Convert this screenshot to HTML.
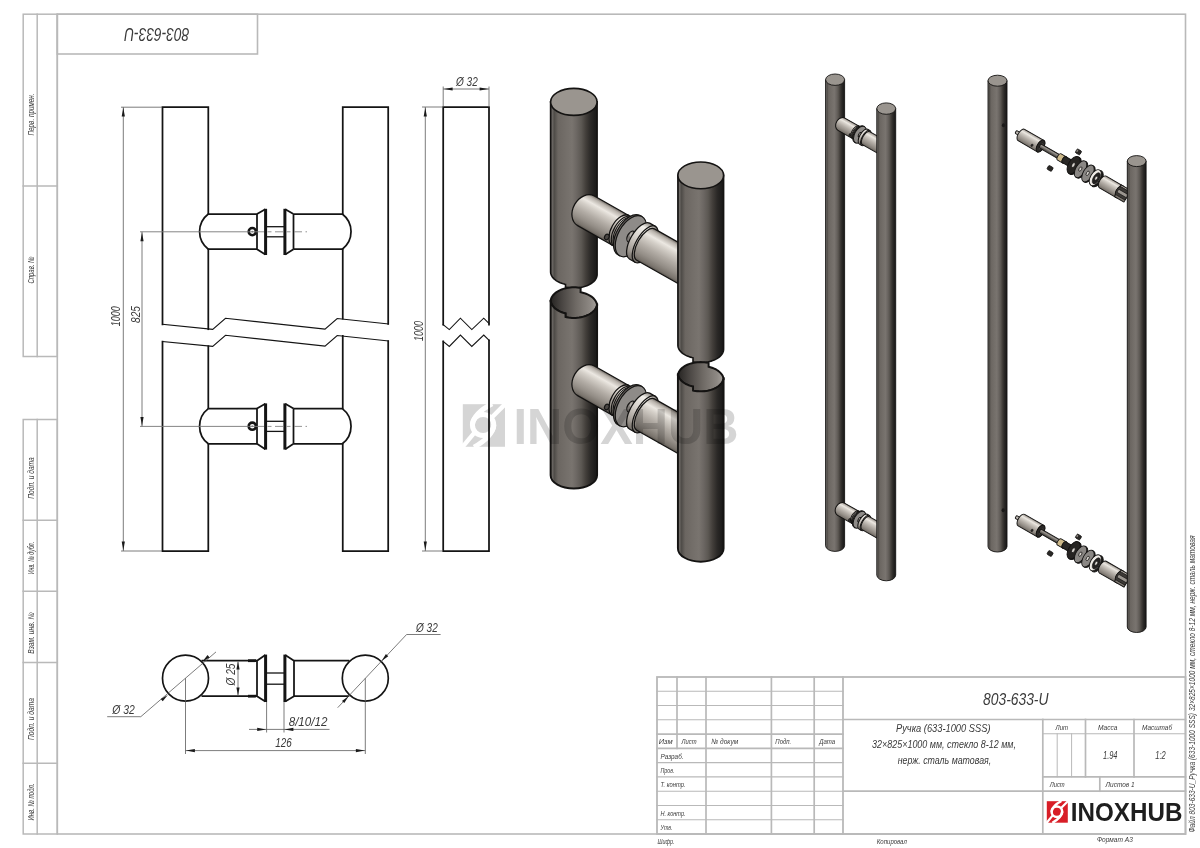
<!DOCTYPE html>
<html><head><meta charset="utf-8"><style>
html,body{margin:0;padding:0;background:#fff;width:1200px;height:848px;overflow:hidden}
svg{display:block}
text{font-family:"Liberation Sans",sans-serif}
</style></head><body>
<svg width="1200" height="848" viewBox="0 0 1200 848">
<g id="frame" stroke-linecap="square">
<rect x="57.3" y="14.2" width="1128.2" height="819.8" fill="none" stroke="#b9b9b9" stroke-width="1.6"/>
<rect x="23.2" y="14.2" width="34.1" height="342.3" fill="none" stroke="#b9b9b9" stroke-width="1.5"/>
<line x1="37.2" y1="14.2" x2="37.2" y2="356.5" stroke="#b9b9b9" stroke-width="1.5" />
<line x1="23.2" y1="186" x2="57.3" y2="186" stroke="#b9b9b9" stroke-width="1.5" />
<rect x="23.2" y="419.5" width="34.1" height="414.5" fill="none" stroke="#b9b9b9" stroke-width="1.5"/>
<line x1="37.2" y1="419.5" x2="37.2" y2="834" stroke="#b9b9b9" stroke-width="1.5" />
<line x1="23.2" y1="520.2" x2="57.3" y2="520.2" stroke="#b9b9b9" stroke-width="1.5" />
<line x1="23.2" y1="591.2" x2="57.3" y2="591.2" stroke="#b9b9b9" stroke-width="1.5" />
<line x1="23.2" y1="662.4" x2="57.3" y2="662.4" stroke="#b9b9b9" stroke-width="1.5" />
<line x1="23.2" y1="763.2" x2="57.3" y2="763.2" stroke="#b9b9b9" stroke-width="1.5" />
<rect x="57.3" y="14.2" width="200.2" height="39.8" fill="none" stroke="#b9b9b9" stroke-width="1.6"/>
</g>
<g id="tb" stroke-linecap="square">
<rect x="657" y="677" width="528.5" height="157" fill="none" stroke="#b9b9b9" stroke-width="1.8"/>
<line x1="657" y1="691.3" x2="843" y2="691.3" stroke="#b9b9b9" stroke-width="1.1" />
<line x1="657" y1="705.5" x2="843" y2="705.5" stroke="#b9b9b9" stroke-width="1.1" />
<line x1="657" y1="719.8" x2="843" y2="719.8" stroke="#b9b9b9" stroke-width="1.1" />
<line x1="657" y1="734.1" x2="843" y2="734.1" stroke="#b9b9b9" stroke-width="1.7" />
<line x1="657" y1="748.4" x2="843" y2="748.4" stroke="#b9b9b9" stroke-width="1.7" />
<line x1="657" y1="762.6" x2="843" y2="762.6" stroke="#b9b9b9" stroke-width="1.1" />
<line x1="657" y1="776.9" x2="843" y2="776.9" stroke="#b9b9b9" stroke-width="1.1" />
<line x1="657" y1="791.2" x2="843" y2="791.2" stroke="#b9b9b9" stroke-width="1.1" />
<line x1="657" y1="805.5" x2="843" y2="805.5" stroke="#b9b9b9" stroke-width="1.1" />
<line x1="657" y1="819.7" x2="843" y2="819.7" stroke="#b9b9b9" stroke-width="1.1" />
<line x1="677" y1="677" x2="677" y2="748.3636363636364" stroke="#b9b9b9" stroke-width="1.7" />
<line x1="706" y1="677" x2="706" y2="834" stroke="#b9b9b9" stroke-width="1.7" />
<line x1="771.4" y1="677" x2="771.4" y2="834" stroke="#b9b9b9" stroke-width="1.7" />
<line x1="814.2" y1="677" x2="814.2" y2="834" stroke="#b9b9b9" stroke-width="1.7" />
<line x1="843" y1="677" x2="843" y2="834" stroke="#b9b9b9" stroke-width="1.8" />
<line x1="843" y1="719.5" x2="1185.5" y2="719.5" stroke="#b9b9b9" stroke-width="1.7" />
<line x1="843" y1="791.2" x2="1185.5" y2="791.2" stroke="#b9b9b9" stroke-width="1.7" />
<line x1="1042.8" y1="719.5" x2="1042.8" y2="834" stroke="#b9b9b9" stroke-width="1.7" />
<line x1="1042.8" y1="733.8" x2="1185.5" y2="733.8" stroke="#b9b9b9" stroke-width="1.1" />
<line x1="1042.8" y1="776.8" x2="1185.5" y2="776.8" stroke="#b9b9b9" stroke-width="1.7" />
<line x1="1085.5" y1="719.5" x2="1085.5" y2="776.8" stroke="#b9b9b9" stroke-width="1.7" />
<line x1="1134" y1="719.5" x2="1134" y2="776.8" stroke="#b9b9b9" stroke-width="1.7" />
<line x1="1057.2" y1="733.8" x2="1057.2" y2="776.8" stroke="#b9b9b9" stroke-width="1.0" />
<line x1="1071.6" y1="733.8" x2="1071.6" y2="776.8" stroke="#b9b9b9" stroke-width="1.0" />
<line x1="1099.8" y1="776.8" x2="1099.8" y2="791.2" stroke="#b9b9b9" stroke-width="1.7" />
</g>
<text x="658.7" y="744.2" font-size="7.8" font-family="Liberation Sans" font-style="italic" font-weight="normal" fill="#3a3a3a" text-anchor="start" textLength="14" lengthAdjust="spacingAndGlyphs" >Изм</text>
<text x="681.5" y="744.2" font-size="7.8" font-family="Liberation Sans" font-style="italic" font-weight="normal" fill="#3a3a3a" text-anchor="start" textLength="15" lengthAdjust="spacingAndGlyphs" >Лист</text>
<text x="711.2" y="744.2" font-size="7.8" font-family="Liberation Sans" font-style="italic" font-weight="normal" fill="#3a3a3a" text-anchor="start" textLength="27" lengthAdjust="spacingAndGlyphs" >№ докум</text>
<text x="775.3" y="744.2" font-size="7.8" font-family="Liberation Sans" font-style="italic" font-weight="normal" fill="#3a3a3a" text-anchor="start" textLength="16" lengthAdjust="spacingAndGlyphs" >Подп.</text>
<text x="819.2" y="744.2" font-size="7.8" font-family="Liberation Sans" font-style="italic" font-weight="normal" fill="#3a3a3a" text-anchor="start" textLength="16" lengthAdjust="spacingAndGlyphs" >Дата</text>
<text x="660.5" y="758.8" font-size="7.8" font-family="Liberation Sans" font-style="italic" font-weight="normal" fill="#3a3a3a" text-anchor="start" textLength="23" lengthAdjust="spacingAndGlyphs" >Разраб.</text>
<text x="660.5" y="773.3" font-size="7.8" font-family="Liberation Sans" font-style="italic" font-weight="normal" fill="#3a3a3a" text-anchor="start" textLength="14" lengthAdjust="spacingAndGlyphs" >Пров.</text>
<text x="660.5" y="787.2" font-size="7.8" font-family="Liberation Sans" font-style="italic" font-weight="normal" fill="#3a3a3a" text-anchor="start" textLength="25" lengthAdjust="spacingAndGlyphs" >Т. контр.</text>
<text x="660.5" y="815.8" font-size="7.8" font-family="Liberation Sans" font-style="italic" font-weight="normal" fill="#3a3a3a" text-anchor="start" textLength="25" lengthAdjust="spacingAndGlyphs" >Н. контр.</text>
<text x="660.5" y="830.0" font-size="7.8" font-family="Liberation Sans" font-style="italic" font-weight="normal" fill="#3a3a3a" text-anchor="start" textLength="12" lengthAdjust="spacingAndGlyphs" >Утв.</text>
<text x="657.5" y="844.2" font-size="7.8" font-family="Liberation Sans" font-style="italic" font-weight="normal" fill="#3a3a3a" text-anchor="start" textLength="17" lengthAdjust="spacingAndGlyphs" >Шифр.</text>
<text x="876.8" y="844.2" font-size="7.8" font-family="Liberation Sans" font-style="italic" font-weight="normal" fill="#3a3a3a" text-anchor="start" textLength="30" lengthAdjust="spacingAndGlyphs" >Копировал</text>
<text x="1096.9" y="842.3" font-size="7.8" font-family="Liberation Sans" font-style="italic" font-weight="normal" fill="#3a3a3a" text-anchor="start" textLength="36" lengthAdjust="spacingAndGlyphs" >Формат А3</text>
<text x="1055.5" y="730.2" font-size="7.8" font-family="Liberation Sans" font-style="italic" font-weight="normal" fill="#3a3a3a" text-anchor="start" textLength="12.5" lengthAdjust="spacingAndGlyphs" >Лит</text>
<text x="1098" y="730.2" font-size="7.8" font-family="Liberation Sans" font-style="italic" font-weight="normal" fill="#3a3a3a" text-anchor="start" textLength="19.5" lengthAdjust="spacingAndGlyphs" >Масса</text>
<text x="1142" y="730.2" font-size="7.8" font-family="Liberation Sans" font-style="italic" font-weight="normal" fill="#3a3a3a" text-anchor="start" textLength="30" lengthAdjust="spacingAndGlyphs" >Масштаб</text>
<text x="1049.7" y="787.4" font-size="7.8" font-family="Liberation Sans" font-style="italic" font-weight="normal" fill="#3a3a3a" text-anchor="start" textLength="15" lengthAdjust="spacingAndGlyphs" >Лист</text>
<text x="1105.6" y="787.4" font-size="7.8" font-family="Liberation Sans" font-style="italic" font-weight="normal" fill="#3a3a3a" text-anchor="start" textLength="29" lengthAdjust="spacingAndGlyphs" >Листов 1</text>
<text x="1103" y="759.2" font-size="11" font-family="Liberation Sans" font-style="italic" font-weight="normal" fill="#3a3a3a" text-anchor="start" textLength="14.5" lengthAdjust="spacingAndGlyphs" >1.94</text>
<text x="1155.3" y="759.2" font-size="11" font-family="Liberation Sans" font-style="italic" font-weight="normal" fill="#3a3a3a" text-anchor="start" textLength="10.5" lengthAdjust="spacingAndGlyphs" >1:2</text>
<text x="983" y="705" font-size="16.5" font-family="Liberation Sans" font-style="italic" font-weight="normal" fill="#3a3a3a" text-anchor="start" textLength="65.5" lengthAdjust="spacingAndGlyphs" >803-633-U</text>
<text x="896" y="732.2" font-size="11" font-family="Liberation Sans" font-style="italic" font-weight="normal" fill="#3a3a3a" text-anchor="start" textLength="94.5" lengthAdjust="spacingAndGlyphs" >Ручка (633-1000 SSS)</text>
<text x="872" y="748" font-size="11" font-family="Liberation Sans" font-style="italic" font-weight="normal" fill="#3a3a3a" text-anchor="start" textLength="144" lengthAdjust="spacingAndGlyphs" >32×825×1000 мм, стекло 8-12 мм,</text>
<text x="897.7" y="763.8" font-size="11" font-family="Liberation Sans" font-style="italic" font-weight="normal" fill="#3a3a3a" text-anchor="start" textLength="93.5" lengthAdjust="spacingAndGlyphs" >нерж. сталь матовая,</text>
<g transform="translate(1046.8 801.2) scale(1.0)"><rect x="0" y="0" width="21" height="21.5" fill="#d81e27"/><g fill="none" stroke="#fff" stroke-linecap="butt"><circle cx="10.1" cy="10.5" r="5.3" stroke-width="2.5"/><path d="M14.6 -0.2 Q5.4 4.6 4.75 10.5" stroke-width="2.5"/><path d="M5.9 14.2 L-0.3 21.8" stroke-width="2.2"/><path d="M5.6 21.7 Q14.8 16.4 15.45 10.5" stroke-width="2.5"/><path d="M14.3 6.8 L21.3 -0.3" stroke-width="2.2"/></g></g>
<text x="1070.8" y="821.3" font-size="25" font-family="Liberation Sans" font-style="normal" font-weight="bold" fill="#1e1e1e" text-anchor="start" textLength="111.6" lengthAdjust="spacingAndGlyphs" >INOXHUB</text>
<text x="33.5" y="114.5" font-size="8.6" font-family="Liberation Sans" font-style="italic" font-weight="normal" fill="#3a3a3a" text-anchor="middle" textLength="42" lengthAdjust="spacingAndGlyphs" transform="rotate(-90 33.5 114.5)" >Перв. примен.</text>
<text x="33.5" y="270" font-size="8.6" font-family="Liberation Sans" font-style="italic" font-weight="normal" fill="#3a3a3a" text-anchor="middle" textLength="27" lengthAdjust="spacingAndGlyphs" transform="rotate(-90 33.5 270)" >Справ. №</text>
<text x="33.5" y="478" font-size="8.6" font-family="Liberation Sans" font-style="italic" font-weight="normal" fill="#3a3a3a" text-anchor="middle" textLength="41.5" lengthAdjust="spacingAndGlyphs" transform="rotate(-90 33.5 478)" >Подп. и дата</text>
<text x="33.5" y="558" font-size="8.6" font-family="Liberation Sans" font-style="italic" font-weight="normal" fill="#3a3a3a" text-anchor="middle" textLength="32.5" lengthAdjust="spacingAndGlyphs" transform="rotate(-90 33.5 558)" >Инв. № дубл.</text>
<text x="33.5" y="633" font-size="8.6" font-family="Liberation Sans" font-style="italic" font-weight="normal" fill="#3a3a3a" text-anchor="middle" textLength="41.5" lengthAdjust="spacingAndGlyphs" transform="rotate(-90 33.5 633)" >Взам. инв. №</text>
<text x="33.5" y="719" font-size="8.6" font-family="Liberation Sans" font-style="italic" font-weight="normal" fill="#3a3a3a" text-anchor="middle" textLength="42" lengthAdjust="spacingAndGlyphs" transform="rotate(-90 33.5 719)" >Подп. и дата</text>
<text x="33.5" y="802" font-size="8.6" font-family="Liberation Sans" font-style="italic" font-weight="normal" fill="#3a3a3a" text-anchor="middle" textLength="37" lengthAdjust="spacingAndGlyphs" transform="rotate(-90 33.5 802)" >Инв. № подл.</text>
<text x="156.85" y="28.3" font-size="18.5" font-family="Liberation Sans" font-style="italic" font-weight="normal" fill="#3a3a3a" text-anchor="middle" textLength="65" lengthAdjust="spacingAndGlyphs" transform="rotate(180 156.85 28.3)" >803-633-U</text>
<text x="1195.1" y="832.6" font-size="8.4" font-family="Liberation Sans" font-style="italic" font-weight="normal" fill="#3a3a3a" text-anchor="start" textLength="297" lengthAdjust="spacingAndGlyphs" transform="rotate(-90 1195.1 832.6)" >Файл 803-633-U_Ручка (633-1000 SSS) 32×825×1000 мм, стекло 8-12 мм, нерж. сталь матовая</text>
<g stroke-linecap="square" stroke-linejoin="miter">
<path d="M162.5 324.3 L162.5 107.2 L208.3 107.2 L208.3 214" stroke="#141414" stroke-width="1.75" fill="none" />
<path d="M208.3 249.2 L208.3 329.2" stroke="#141414" stroke-width="1.75" fill="none" />
<path d="M342.75 318.6 L342.75 249.2 M342.75 214 L342.75 107 L388.2 107 L388.2 323.9" stroke="#141414" stroke-width="1.75" fill="none" />
<path d="M162.5 324.3 L212.7 329.4 L225.5 318.3 L325 329.1 L337.2 318.5 L388.2 323.9" stroke="#141414" stroke-width="1.1" fill="none" />
<path d="M162.5 341.5 L212.7 346.4 L225.5 335.3 L325 346.1 L337.2 335.5 L388.2 340.9" stroke="#141414" stroke-width="1.1" fill="none" />
<path d="M162.5 341.5 L162.5 551 L208.3 551 L208.3 444" stroke="#141414" stroke-width="1.75" fill="none" />
<path d="M208.3 408 L208.3 346.2" stroke="#141414" stroke-width="1.75" fill="none" />
<path d="M342.75 335.8 L342.75 408 M342.75 444 L342.75 551 L388.2 551 L388.2 341" stroke="#141414" stroke-width="1.75" fill="none" />
</g>
<path d="M208.3 214.0 A22.1 22.1 0 0 0 208.3 249.20000000000002" stroke="#141414" stroke-width="1.75" fill="none" />
<path d="M342.3 214.0 A22.1 22.1 0 0 1 342.3 249.20000000000002" stroke="#141414" stroke-width="1.75" fill="none" />
<line x1="208.30" y1="214.00" x2="257.00" y2="214.00" stroke="#141414" stroke-width="1.75" />
<line x1="208.30" y1="249.20" x2="257.00" y2="249.20" stroke="#141414" stroke-width="1.75" />
<line x1="293.50" y1="214.00" x2="342.30" y2="214.00" stroke="#141414" stroke-width="1.75" />
<line x1="293.50" y1="249.20" x2="342.30" y2="249.20" stroke="#141414" stroke-width="1.75" />
<path d="M257 214.0 L265.3 209.20000000000002 M257 249.20000000000002 L265.3 254.60000000000002 M257 214.0 L257 249.20000000000002" stroke="#141414" stroke-width="1.75" fill="none" />
<path d="M293.5 214.0 L285.2 209.20000000000002 M293.5 249.20000000000002 L285.2 254.60000000000002 M293.5 214.0 L293.5 249.20000000000002" stroke="#141414" stroke-width="1.75" fill="none" />
<line x1="265.60" y1="208.80" x2="265.60" y2="255.00" stroke="#141414" stroke-width="3.0" />
<line x1="284.90" y1="208.80" x2="284.90" y2="255.00" stroke="#141414" stroke-width="3.0" />
<line x1="266.50" y1="226.70" x2="284.00" y2="226.70" stroke="#141414" stroke-width="1.3" />
<line x1="266.50" y1="236.80" x2="284.00" y2="236.80" stroke="#141414" stroke-width="1.3" />
<circle cx="252.3" cy="231.60000000000002" r="3.6" fill="none" stroke="#141414" stroke-width="2.6"/>
<circle cx="252.3" cy="231.60000000000002" r="0.9" fill="#999"/>
<line x1="140.00" y1="231.80" x2="256.00" y2="231.80" stroke="#777" stroke-width="0.9" />
<line x1="256.00" y1="231.80" x2="307.00" y2="231.80" stroke="#888" stroke-width="0.9" stroke-dasharray="8 3.5 4 3.5"/>
<path d="M208.3 408.59999999999997 A22.1 22.1 0 0 0 208.3 443.79999999999995" stroke="#141414" stroke-width="1.75" fill="none" />
<path d="M342.3 408.59999999999997 A22.1 22.1 0 0 1 342.3 443.79999999999995" stroke="#141414" stroke-width="1.75" fill="none" />
<line x1="208.30" y1="408.60" x2="257.00" y2="408.60" stroke="#141414" stroke-width="1.75" />
<line x1="208.30" y1="443.80" x2="257.00" y2="443.80" stroke="#141414" stroke-width="1.75" />
<line x1="293.50" y1="408.60" x2="342.30" y2="408.60" stroke="#141414" stroke-width="1.75" />
<line x1="293.50" y1="443.80" x2="342.30" y2="443.80" stroke="#141414" stroke-width="1.75" />
<path d="M257 408.59999999999997 L265.3 403.79999999999995 M257 443.79999999999995 L265.3 449.2 M257 408.59999999999997 L257 443.79999999999995" stroke="#141414" stroke-width="1.75" fill="none" />
<path d="M293.5 408.59999999999997 L285.2 403.79999999999995 M293.5 443.79999999999995 L285.2 449.2 M293.5 408.59999999999997 L293.5 443.79999999999995" stroke="#141414" stroke-width="1.75" fill="none" />
<line x1="265.60" y1="403.40" x2="265.60" y2="449.60" stroke="#141414" stroke-width="3.0" />
<line x1="284.90" y1="403.40" x2="284.90" y2="449.60" stroke="#141414" stroke-width="3.0" />
<line x1="266.50" y1="421.30" x2="284.00" y2="421.30" stroke="#141414" stroke-width="1.3" />
<line x1="266.50" y1="431.40" x2="284.00" y2="431.40" stroke="#141414" stroke-width="1.3" />
<circle cx="252.3" cy="426.2" r="3.6" fill="none" stroke="#141414" stroke-width="2.6"/>
<circle cx="252.3" cy="426.2" r="0.9" fill="#999"/>
<line x1="140.00" y1="426.40" x2="256.00" y2="426.40" stroke="#777" stroke-width="0.9" />
<line x1="256.00" y1="426.40" x2="307.00" y2="426.40" stroke="#888" stroke-width="0.9" stroke-dasharray="8 3.5 4 3.5"/>
<line x1="121.00" y1="107.20" x2="162.00" y2="107.20" stroke="#5a5a5a" stroke-width="0.8" />
<line x1="121.00" y1="551.00" x2="162.00" y2="551.00" stroke="#5a5a5a" stroke-width="0.8" />
<line x1="123.30" y1="107.20" x2="123.30" y2="551.00" stroke="#5a5a5a" stroke-width="0.8" />
<path d="M123.30 107.60 L124.90 116.60 L121.70 116.60Z" fill="#1a1a1a"/>
<path d="M123.30 550.60 L121.70 541.60 L124.90 541.60Z" fill="#1a1a1a"/>
<line x1="142.00" y1="231.80" x2="142.00" y2="426.40" stroke="#5a5a5a" stroke-width="0.8" />
<path d="M142.00 232.20 L143.60 241.20 L140.40 241.20Z" fill="#1a1a1a"/>
<path d="M142.00 426.00 L140.40 417.00 L143.60 417.00Z" fill="#1a1a1a"/>
<text x="120.3" y="316.3" font-size="12" font-family="Liberation Sans" font-style="italic" fill="#3a3a3a" text-anchor="middle" textLength="19.8" lengthAdjust="spacingAndGlyphs" transform="rotate(-90 120.3 316.3)">1000</text>
<text x="139.6" y="314.5" font-size="12" font-family="Liberation Sans" font-style="italic" fill="#3a3a3a" text-anchor="middle" textLength="17" lengthAdjust="spacingAndGlyphs" transform="rotate(-90 139.6 314.5)">825</text>
<g stroke-linecap="square">
<path d="M443.2 324.6 L443.2 107 L489 107 L489 324.6" stroke="#141414" stroke-width="1.75" fill="none" />
<path d="M443.2 324.6 L449.3 329.6 L460.4 318.2 L471.8 329.6 L483.75 318.2 L489 323.5" stroke="#141414" stroke-width="1.1" fill="none" />
<path d="M443.2 341.4 L449.3 346.4 L460.4 335.0 L471.8 346.4 L483.75 335.0 L489 340.3" stroke="#141414" stroke-width="1.1" fill="none" />
<path d="M443.2 341.4 L443.2 551 L489 551 L489 340.3" stroke="#141414" stroke-width="1.75" fill="none" />
</g>
<line x1="422.00" y1="107.00" x2="443.00" y2="107.00" stroke="#5a5a5a" stroke-width="0.8" />
<line x1="422.00" y1="551.00" x2="443.00" y2="551.00" stroke="#5a5a5a" stroke-width="0.8" />
<line x1="425.30" y1="107.00" x2="425.30" y2="551.00" stroke="#5a5a5a" stroke-width="0.8" />
<path d="M425.30 107.40 L426.90 116.40 L423.70 116.40Z" fill="#1a1a1a"/>
<path d="M425.30 550.60 L423.70 541.60 L426.90 541.60Z" fill="#1a1a1a"/>
<text x="422.5" y="331" font-size="12" font-family="Liberation Sans" font-style="italic" fill="#3a3a3a" text-anchor="middle" textLength="20" lengthAdjust="spacingAndGlyphs" transform="rotate(-90 422.5 331)">1000</text>
<line x1="443.20" y1="86.50" x2="443.20" y2="106.00" stroke="#5a5a5a" stroke-width="0.8" />
<line x1="489.00" y1="86.50" x2="489.00" y2="106.00" stroke="#5a5a5a" stroke-width="0.8" />
<line x1="443.20" y1="89.00" x2="489.00" y2="89.00" stroke="#5a5a5a" stroke-width="0.8" />
<path d="M443.60 89.00 L452.60 87.40 L452.60 90.60Z" fill="#1a1a1a"/>
<path d="M488.60 89.00 L479.60 90.60 L479.60 87.40Z" fill="#1a1a1a"/>
<text x="456" y="85.8" font-size="12" font-family="Liberation Sans" font-style="italic" fill="#3a3a3a" text-anchor="start" textLength="21.7" lengthAdjust="spacingAndGlyphs">Ø 32</text>
<circle cx="185.5" cy="678.2" r="23" fill="none" stroke="#141414" stroke-width="1.7"/>
<circle cx="365.3" cy="678.2" r="23" fill="none" stroke="#141414" stroke-width="1.7"/>
<line x1="201.50" y1="660.70" x2="257.00" y2="660.70" stroke="#141414" stroke-width="1.75" />
<line x1="201.50" y1="696.20" x2="257.00" y2="696.20" stroke="#141414" stroke-width="1.75" />
<line x1="294.00" y1="660.70" x2="349.30" y2="660.70" stroke="#141414" stroke-width="1.75" />
<line x1="294.00" y1="696.20" x2="349.30" y2="696.20" stroke="#141414" stroke-width="1.75" />
<line x1="248.00" y1="660.70" x2="256.00" y2="660.70" stroke="#141414" stroke-width="2.8" />
<line x1="248.00" y1="696.20" x2="256.00" y2="696.20" stroke="#141414" stroke-width="2.8" />
<path d="M257 660.7 L265.3 655 M257 696.2 L265.3 701.6 M257 660.7 L257 696.2" stroke="#141414" stroke-width="1.75" fill="none" />
<path d="M294 660.7 L285.2 655 M294 696.2 L285.2 701.6 M294 660.7 L294 696.2" stroke="#141414" stroke-width="1.75" fill="none" />
<line x1="265.60" y1="654.60" x2="265.60" y2="702.00" stroke="#141414" stroke-width="3.0" />
<line x1="284.90" y1="654.60" x2="284.90" y2="702.00" stroke="#141414" stroke-width="3.0" />
<line x1="266.50" y1="673.00" x2="284.00" y2="673.00" stroke="#141414" stroke-width="1.3" />
<line x1="266.50" y1="684.20" x2="284.00" y2="684.20" stroke="#141414" stroke-width="1.3" />
<line x1="238.00" y1="661.50" x2="238.00" y2="695.50" stroke="#5a5a5a" stroke-width="0.8" />
<path d="M238.00 661.40 L239.60 669.40 L236.40 669.40Z" fill="#1a1a1a"/>
<path d="M238.00 695.60 L236.40 687.60 L239.60 687.60Z" fill="#1a1a1a"/>
<text x="234.8" y="674.5" font-size="12" font-family="Liberation Sans" font-style="italic" fill="#3a3a3a" text-anchor="middle" textLength="22" lengthAdjust="spacingAndGlyphs" transform="rotate(-90 234.8 674.5)">Ø 25</text>
<line x1="216.00" y1="651.90" x2="140.80" y2="716.70" stroke="#5a5a5a" stroke-width="0.8" />
<line x1="140.80" y1="716.70" x2="107.20" y2="716.70" stroke="#5a5a5a" stroke-width="0.8" />
<path d="M202.50 661.40 L207.54 654.98 L209.62 657.42Z" fill="#1a1a1a"/>
<path d="M167.80 694.90 L162.76 701.32 L160.68 698.88Z" fill="#1a1a1a"/>
<text x="112.3" y="713.6" font-size="12" font-family="Liberation Sans" font-style="italic" fill="#3a3a3a" text-anchor="start" textLength="22.5" lengthAdjust="spacingAndGlyphs">Ø 32</text>
<line x1="337.70" y1="707.70" x2="406.60" y2="634.50" stroke="#5a5a5a" stroke-width="0.8" />
<line x1="406.60" y1="634.50" x2="440.60" y2="634.50" stroke="#5a5a5a" stroke-width="0.8" />
<path d="M348.60 696.20 L344.28 703.12 L341.95 700.93Z" fill="#1a1a1a"/>
<path d="M381.60 661.00 L385.92 654.08 L388.25 656.27Z" fill="#1a1a1a"/>
<text x="416" y="631.7" font-size="12" font-family="Liberation Sans" font-style="italic" fill="#3a3a3a" text-anchor="start" textLength="21.7" lengthAdjust="spacingAndGlyphs">Ø 32</text>
<line x1="185.50" y1="678.20" x2="185.50" y2="754.00" stroke="#5a5a5a" stroke-width="0.8" />
<line x1="365.30" y1="678.20" x2="365.30" y2="754.00" stroke="#5a5a5a" stroke-width="0.8" />
<line x1="185.50" y1="750.60" x2="365.30" y2="750.60" stroke="#5a5a5a" stroke-width="0.8" />
<path d="M185.90 750.60 L194.90 749.00 L194.90 752.20Z" fill="#1a1a1a"/>
<path d="M364.90 750.60 L355.90 752.20 L355.90 749.00Z" fill="#1a1a1a"/>
<text x="283.5" y="747.4" font-size="12" font-family="Liberation Sans" font-style="italic" fill="#3a3a3a" text-anchor="middle" textLength="16.5" lengthAdjust="spacingAndGlyphs">126</text>
<line x1="266.60" y1="702.00" x2="266.60" y2="732.50" stroke="#5a5a5a" stroke-width="0.8" />
<line x1="284.00" y1="702.00" x2="284.00" y2="732.50" stroke="#5a5a5a" stroke-width="0.8" />
<line x1="249.00" y1="729.40" x2="329.50" y2="729.40" stroke="#5a5a5a" stroke-width="0.8" />
<path d="M266.20 729.40 L257.20 731.00 L257.20 727.80Z" fill="#1a1a1a"/>
<path d="M284.40 729.40 L293.40 727.80 L293.40 731.00Z" fill="#1a1a1a"/>
<text x="288.7" y="726.2" font-size="12" font-family="Liberation Sans" font-style="italic" fill="#3a3a3a" text-anchor="start" textLength="38.7" lengthAdjust="spacingAndGlyphs">8/10/12</text>
<defs>
<linearGradient id="gTube" x1="0" y1="0" x2="1" y2="0">
 <stop offset="0" stop-color="#3a3836"/>
 <stop offset="0.03" stop-color="#6e6a66"/>
 <stop offset="0.08" stop-color="#4f4c48"/>
 <stop offset="0.16" stop-color="#6b6661"/>
 <stop offset="0.32" stop-color="#736e69"/>
 <stop offset="0.46" stop-color="#79746f"/>
 <stop offset="0.56" stop-color="#6c6763"/>
 <stop offset="0.66" stop-color="#5c5853"/>
 <stop offset="0.76" stop-color="#423e3a"/>
 <stop offset="0.86" stop-color="#2b2927"/>
 <stop offset="0.95" stop-color="#1e1d1c"/>
 <stop offset="1" stop-color="#191919"/>
</linearGradient>
<linearGradient id="gInner" x1="0" y1="0" x2="1" y2="0">
 <stop offset="0" stop-color="#262422"/>
 <stop offset="0.25" stop-color="#4a4643"/>
 <stop offset="0.55" stop-color="#6f6a65"/>
 <stop offset="0.85" stop-color="#8d8883"/>
 <stop offset="1" stop-color="#a8a39e"/>
</linearGradient>
<linearGradient id="gMetal" x1="0" y1="0" x2="0" y2="1">
 <stop offset="0" stop-color="#6e6862"/>
 <stop offset="0.08" stop-color="#b9b3ac"/>
 <stop offset="0.22" stop-color="#ece8e2"/>
 <stop offset="0.34" stop-color="#d4cfc8"/>
 <stop offset="0.55" stop-color="#b3ada6"/>
 <stop offset="0.78" stop-color="#948e87"/>
 <stop offset="0.93" stop-color="#7a746d"/>
 <stop offset="1" stop-color="#5a554f"/>
</linearGradient>
<linearGradient id="gRing" x1="0" y1="0" x2="0" y2="1">
 <stop offset="0" stop-color="#8a857f"/>
 <stop offset="0.15" stop-color="#f2efea"/>
 <stop offset="0.45" stop-color="#d7d2cc"/>
 <stop offset="0.8" stop-color="#a39d96"/>
 <stop offset="1" stop-color="#6f6a64"/>
</linearGradient>
<linearGradient id="gRod" x1="0" y1="0" x2="0" y2="1">
 <stop offset="0" stop-color="#4a4642"/>
 <stop offset="0.3" stop-color="#9a958f"/>
 <stop offset="0.6" stop-color="#6e6a65"/>
 <stop offset="1" stop-color="#35322f"/>
</linearGradient>
</defs>
<path d="M550.6 101.9 L550.60 271.80 L550.67 272.86 L550.89 273.91 L551.24 274.95 L551.74 275.97 L552.37 276.97 L553.13 277.93 L554.03 278.85 L555.04 279.74 L556.17 280.57 L557.41 281.35 L558.75 282.07 L560.18 282.72 L561.70 283.31 L563.29 283.83 L564.95 284.27 L565.50 284.39 L565.50 287.09 L566.67 287.34 L568.42 287.63 L570.21 287.83 L572.03 287.96 L573.85 288.00 L575.67 287.96 L577.49 287.83 L579.28 287.63 L581.03 287.34 L582.75 286.97 L584.41 286.53 L586.00 286.01 L587.52 285.42 L588.95 284.77 L590.29 284.05 L591.53 283.27 L592.66 282.44 L593.67 281.55 L594.57 280.63 L595.33 279.67 L595.96 278.67 L596.46 277.65 L596.81 276.61 L597.03 275.56 L597.10 274.50 L597.1 101.9 Z" fill="url(#gTube)" stroke="#141312" stroke-width="1.6"/>
<ellipse cx="573.85" cy="101.9" rx="23.25" ry="13.5" fill="#9a958f" stroke="#141312" stroke-width="1.6"/>
<path d="M550.60 301.80 L550.67 300.66 L550.89 299.53 L551.24 298.42 L551.74 297.32 L552.37 296.25 L553.13 295.22 L554.03 294.22 L555.04 293.28 L556.17 292.38 L557.41 291.55 L558.75 290.77 L560.18 290.07 L561.70 289.44 L563.29 288.88 L564.95 288.40 L566.67 288.01 L568.42 287.70 L570.21 287.48 L572.03 287.34 L573.85 287.30 L575.67 287.34 L577.49 287.48 L579.28 287.70 L580.60 287.93 L580.60 292.23 L581.03 292.31 L582.75 292.70 L584.41 293.18 L586.00 293.74 L587.52 294.37 L588.95 295.07 L590.29 295.85 L591.53 296.68 L592.66 297.58 L593.67 298.52 L594.57 299.52 L595.33 300.55 L595.96 301.62 L596.46 302.72 L596.81 303.83 L597.03 304.96 L597.10 306.10 L597.10 303.50 L597.03 304.64 L596.81 305.77 L596.46 306.88 L595.96 307.98 L595.33 309.05 L594.57 310.08 L593.67 311.08 L592.66 312.02 L591.53 312.92 L590.29 313.75 L588.95 314.53 L587.52 315.23 L586.00 315.86 L584.41 316.42 L582.75 316.90 L581.03 317.29 L579.28 317.60 L577.49 317.82 L575.67 317.96 L573.85 318.00 L572.03 317.96 L570.21 317.82 L568.42 317.60 L566.67 317.29 L565.50 317.02 L565.50 313.42 L564.95 313.30 L563.29 312.82 L561.70 312.26 L560.18 311.63 L558.75 310.93 L557.41 310.15 L556.17 309.32 L555.04 308.42 L554.03 307.48 L553.13 306.48 L552.37 305.45 L551.74 304.38 L551.24 303.28 L550.89 302.17 L550.67 301.04 L550.60 299.90 Z" fill="url(#gInner)" stroke="#141312" stroke-width="2.0"/>
<path d="M597.10 303.50 L597.03 304.64 L596.81 305.77 L596.46 306.88 L595.96 307.98 L595.33 309.05 L594.57 310.08 L593.67 311.08 L592.66 312.02 L591.53 312.92 L590.29 313.75 L588.95 314.53 L587.52 315.23 L586.00 315.86 L584.41 316.42 L582.75 316.90 L581.03 317.29 L579.28 317.60 L577.49 317.82 L575.67 317.96 L573.85 318.00 L572.03 317.96 L570.21 317.82 L568.42 317.60 L566.67 317.29 L565.50 317.02 L565.50 313.42 L564.95 313.30 L563.29 312.82 L561.70 312.26 L560.18 311.63 L558.75 310.93 L557.41 310.15 L556.17 309.32 L555.04 308.42 L554.03 307.48 L553.13 306.48 L552.37 305.45 L551.74 304.38 L551.24 303.28 L550.89 302.17 L550.67 301.04 L550.60 299.90 L550.6 475.2 A23.25 13.3 0 0 0 597.1 475.2 Z" fill="url(#gTube)" stroke="#141312" stroke-width="1.9000000000000001"/>
<g transform="translate(586.0 210.8) rotate(29.5) scale(1.0)" stroke="#141312" stroke-linejoin="round">
<path d="M42 -17.0 L0 -17.0 A13 17.0 0 0 0 0 17.0 L42 17.0 Z" fill="url(#gMetal)" stroke-width="1.25"/>
<path d="M40 -17.2 A9.632 17.2 0 0 0 40 17.2" fill="none" stroke-width="1.25"/>
<path d="M43 -17.5 A9.8 17.5 0 0 0 43 17.5" fill="none" stroke-width="1.125"/>
<path d="M45 -17.6 A9.856000000000002 17.6 0 0 0 45 17.6" fill="none" stroke-width="1.0"/>
<ellipse cx="31" cy="12.5" rx="2.2" ry="2.9" fill="#4a4643" stroke-width="1.125"/>
<path d="M51.5 -22.5 L49.5 -22.5 A12.600000000000001 22.5 0 0 0 49.5 22.5 L51.5 22.5 Z" fill="#6f6b67" stroke-width="1.25"/>
<ellipse cx="51.5" cy="0" rx="12.600000000000001" ry="22.5" fill="#8e8b88" stroke-width="1.25"/>
<ellipse cx="52" cy="0.3" rx="3.6" ry="6" fill="#7d7975" stroke-width="1.125"/>
<ellipse cx="51.3" cy="-1.5" rx="1.6" ry="2.5" fill="#b5b0ab" stroke="none"/>
<path d="M68 -20.6 L61.5 -20.6 A9.270000000000001 20.6 0 0 0 61.5 20.6 L68 20.6 Z" fill="url(#gRing)" stroke-width="1.25"/>
<ellipse cx="68" cy="0" rx="9.270000000000001" ry="20.6" fill="url(#gRing)" stroke-width="1.25"/>
<path d="M125 -18.0 L68.5 -18.0 A8.1 18.0 0 0 0 68.5 18.0 L125 18.0 Z" fill="url(#gMetal)" stroke-width="1.25"/>
</g>
<g transform="translate(586.0 380.8) rotate(29.5) scale(1.0)" stroke="#141312" stroke-linejoin="round">
<path d="M42 -17.0 L0 -17.0 A13 17.0 0 0 0 0 17.0 L42 17.0 Z" fill="url(#gMetal)" stroke-width="1.25"/>
<path d="M40 -17.2 A9.632 17.2 0 0 0 40 17.2" fill="none" stroke-width="1.25"/>
<path d="M43 -17.5 A9.8 17.5 0 0 0 43 17.5" fill="none" stroke-width="1.125"/>
<path d="M45 -17.6 A9.856000000000002 17.6 0 0 0 45 17.6" fill="none" stroke-width="1.0"/>
<ellipse cx="31" cy="12.5" rx="2.2" ry="2.9" fill="#4a4643" stroke-width="1.125"/>
<path d="M51.5 -22.5 L49.5 -22.5 A12.600000000000001 22.5 0 0 0 49.5 22.5 L51.5 22.5 Z" fill="#6f6b67" stroke-width="1.25"/>
<ellipse cx="51.5" cy="0" rx="12.600000000000001" ry="22.5" fill="#8e8b88" stroke-width="1.25"/>
<ellipse cx="52" cy="0.3" rx="3.6" ry="6" fill="#7d7975" stroke-width="1.125"/>
<ellipse cx="51.3" cy="-1.5" rx="1.6" ry="2.5" fill="#b5b0ab" stroke="none"/>
<path d="M68 -20.6 L61.5 -20.6 A9.270000000000001 20.6 0 0 0 61.5 20.6 L68 20.6 Z" fill="url(#gRing)" stroke-width="1.25"/>
<ellipse cx="68" cy="0" rx="9.270000000000001" ry="20.6" fill="url(#gRing)" stroke-width="1.25"/>
<path d="M125 -18.0 L68.5 -18.0 A8.1 18.0 0 0 0 68.5 18.0 L125 18.0 Z" fill="url(#gMetal)" stroke-width="1.25"/>
</g>
<path d="M677.9 175.4 L677.90 345.10 L677.97 346.16 L678.18 347.21 L678.53 348.25 L679.02 349.27 L679.64 350.27 L680.39 351.23 L681.27 352.15 L682.26 353.04 L683.37 353.87 L684.59 354.65 L685.91 355.37 L687.32 356.02 L688.81 356.61 L690.38 357.13 L692.01 357.57 L693.00 357.79 L693.00 361.79 L693.69 361.94 L695.42 362.23 L697.18 362.43 L698.96 362.56 L700.75 362.60 L702.54 362.56 L704.32 362.43 L706.08 362.23 L707.81 361.94 L709.49 361.57 L711.12 361.13 L712.69 360.61 L714.18 360.02 L715.59 359.37 L716.91 358.65 L718.13 357.87 L719.24 357.04 L720.23 356.15 L721.11 355.23 L721.86 354.27 L722.48 353.27 L722.97 352.25 L723.32 351.21 L723.53 350.16 L723.60 349.10 L723.6 175.4 Z" fill="url(#gTube)" stroke="#141312" stroke-width="1.6"/>
<ellipse cx="700.75" cy="175.4" rx="22.850000000000023" ry="13.4" fill="#9a958f" stroke="#141312" stroke-width="1.6"/>
<path d="M677.90 376.10 L677.97 375.00 L678.18 373.91 L678.53 372.83 L679.02 371.77 L679.64 370.74 L680.39 369.74 L681.27 368.79 L682.26 367.87 L683.37 367.01 L684.59 366.20 L685.91 365.45 L687.32 364.77 L688.81 364.16 L690.38 363.63 L692.01 363.17 L693.69 362.79 L695.42 362.49 L697.18 362.27 L698.96 362.14 L700.75 362.10 L702.54 362.14 L704.32 362.27 L706.08 362.49 L707.81 362.79 L708.60 362.96 L708.60 366.76 L709.49 366.97 L711.12 367.43 L712.69 367.96 L714.18 368.57 L715.59 369.25 L716.91 370.00 L718.13 370.81 L719.24 371.67 L720.23 372.59 L721.11 373.54 L721.86 374.54 L722.48 375.57 L722.97 376.63 L723.32 377.71 L723.53 378.80 L723.60 379.90 L723.60 377.40 L723.53 378.50 L723.32 379.59 L722.97 380.67 L722.48 381.73 L721.86 382.76 L721.11 383.76 L720.23 384.71 L719.24 385.63 L718.13 386.49 L716.91 387.30 L715.59 388.05 L714.18 388.73 L712.69 389.34 L711.12 389.87 L709.49 390.33 L707.81 390.71 L706.08 391.01 L704.32 391.23 L702.54 391.36 L700.75 391.40 L698.96 391.36 L697.18 391.23 L695.42 391.01 L693.69 390.71 L693.00 390.56 L693.00 386.56 L692.01 386.33 L690.38 385.87 L688.81 385.34 L687.32 384.73 L685.91 384.05 L684.59 383.30 L683.37 382.49 L682.26 381.63 L681.27 380.71 L680.39 379.76 L679.64 378.76 L679.02 377.73 L678.53 376.67 L678.18 375.59 L677.97 374.50 L677.90 373.40 Z" fill="url(#gInner)" stroke="#141312" stroke-width="2.0"/>
<path d="M723.60 377.40 L723.53 378.50 L723.32 379.59 L722.97 380.67 L722.48 381.73 L721.86 382.76 L721.11 383.76 L720.23 384.71 L719.24 385.63 L718.13 386.49 L716.91 387.30 L715.59 388.05 L714.18 388.73 L712.69 389.34 L711.12 389.87 L709.49 390.33 L707.81 390.71 L706.08 391.01 L704.32 391.23 L702.54 391.36 L700.75 391.40 L698.96 391.36 L697.18 391.23 L695.42 391.01 L693.69 390.71 L693.00 390.56 L693.00 386.56 L692.01 386.33 L690.38 385.87 L688.81 385.34 L687.32 384.73 L685.91 384.05 L684.59 383.30 L683.37 382.49 L682.26 381.63 L681.27 380.71 L680.39 379.76 L679.64 378.76 L679.02 377.73 L678.53 376.67 L678.18 375.59 L677.97 374.50 L677.90 373.40 L677.9 548.4 A22.850000000000023 13.3 0 0 0 723.6 548.4 Z" fill="url(#gTube)" stroke="#141312" stroke-width="1.9000000000000001"/>
<path d="M825.6 79.7 L825.6 545.7 A9.5 5.7 0 0 0 844.6 545.7 L844.6 79.7 Z" fill="url(#gTube)" stroke="#141312" stroke-width="0.9"/>
<ellipse cx="835.1" cy="79.7" rx="9.5" ry="5.7" fill="#9a958f" stroke="#141312" stroke-width="0.9"/>
<g transform="translate(841.4 124.2) rotate(29.5) scale(0.413)" stroke="#141312" stroke-linejoin="round">
<path d="M42 -17.0 L0 -17.0 A13 17.0 0 0 0 0 17.0 L42 17.0 Z" fill="url(#gMetal)" stroke-width="2.4213075060532687"/>
<path d="M40 -17.2 A9.632 17.2 0 0 0 40 17.2" fill="none" stroke-width="2.4213075060532687"/>
<path d="M43 -17.5 A9.8 17.5 0 0 0 43 17.5" fill="none" stroke-width="2.179176755447942"/>
<path d="M45 -17.6 A9.856000000000002 17.6 0 0 0 45 17.6" fill="none" stroke-width="1.937046004842615"/>
<ellipse cx="31" cy="12.5" rx="2.2" ry="2.9" fill="#4a4643" stroke-width="2.179176755447942"/>
<path d="M51.5 -22.5 L49.5 -22.5 A12.600000000000001 22.5 0 0 0 49.5 22.5 L51.5 22.5 Z" fill="#6f6b67" stroke-width="2.4213075060532687"/>
<ellipse cx="51.5" cy="0" rx="12.600000000000001" ry="22.5" fill="#8e8b88" stroke-width="2.4213075060532687"/>
<ellipse cx="52" cy="0.3" rx="3.6" ry="6" fill="#7d7975" stroke-width="2.179176755447942"/>
<ellipse cx="51.3" cy="-1.5" rx="1.6" ry="2.5" fill="#b5b0ab" stroke="none"/>
<path d="M68 -20.6 L61.5 -20.6 A9.270000000000001 20.6 0 0 0 61.5 20.6 L68 20.6 Z" fill="url(#gRing)" stroke-width="2.4213075060532687"/>
<ellipse cx="68" cy="0" rx="9.270000000000001" ry="20.6" fill="url(#gRing)" stroke-width="2.4213075060532687"/>
<path d="M125 -18.0 L68.5 -18.0 A8.1 18.0 0 0 0 68.5 18.0 L125 18.0 Z" fill="url(#gMetal)" stroke-width="2.4213075060532687"/>
</g>
<g transform="translate(841.0 509.2) rotate(29.5) scale(0.413)" stroke="#141312" stroke-linejoin="round">
<path d="M42 -17.0 L0 -17.0 A13 17.0 0 0 0 0 17.0 L42 17.0 Z" fill="url(#gMetal)" stroke-width="2.4213075060532687"/>
<path d="M40 -17.2 A9.632 17.2 0 0 0 40 17.2" fill="none" stroke-width="2.4213075060532687"/>
<path d="M43 -17.5 A9.8 17.5 0 0 0 43 17.5" fill="none" stroke-width="2.179176755447942"/>
<path d="M45 -17.6 A9.856000000000002 17.6 0 0 0 45 17.6" fill="none" stroke-width="1.937046004842615"/>
<ellipse cx="31" cy="12.5" rx="2.2" ry="2.9" fill="#4a4643" stroke-width="2.179176755447942"/>
<path d="M51.5 -22.5 L49.5 -22.5 A12.600000000000001 22.5 0 0 0 49.5 22.5 L51.5 22.5 Z" fill="#6f6b67" stroke-width="2.4213075060532687"/>
<ellipse cx="51.5" cy="0" rx="12.600000000000001" ry="22.5" fill="#8e8b88" stroke-width="2.4213075060532687"/>
<ellipse cx="52" cy="0.3" rx="3.6" ry="6" fill="#7d7975" stroke-width="2.179176755447942"/>
<ellipse cx="51.3" cy="-1.5" rx="1.6" ry="2.5" fill="#b5b0ab" stroke="none"/>
<path d="M68 -20.6 L61.5 -20.6 A9.270000000000001 20.6 0 0 0 61.5 20.6 L68 20.6 Z" fill="url(#gRing)" stroke-width="2.4213075060532687"/>
<ellipse cx="68" cy="0" rx="9.270000000000001" ry="20.6" fill="url(#gRing)" stroke-width="2.4213075060532687"/>
<path d="M125 -18.0 L68.5 -18.0 A8.1 18.0 0 0 0 68.5 18.0 L125 18.0 Z" fill="url(#gMetal)" stroke-width="2.4213075060532687"/>
</g>
<path d="M876.8 108.6 L876.8 575.1 A9.450000000000045 5.7 0 0 0 895.7 575.1 L895.7 108.6 Z" fill="url(#gTube)" stroke="#141312" stroke-width="0.9"/>
<ellipse cx="886.25" cy="108.6" rx="9.450000000000045" ry="5.7" fill="#9a958f" stroke="#141312" stroke-width="0.9"/>
<path d="M988 80.7 L988 546.5 A9.5 5.5 0 0 0 1007 546.5 L1007 80.7 Z" fill="url(#gTube)" stroke="#141312" stroke-width="0.9"/>
<ellipse cx="997.5" cy="80.7" rx="9.5" ry="5.5" fill="#9a958f" stroke="#141312" stroke-width="0.9"/>
<ellipse cx="1003.5" cy="125.3" rx="1.6" ry="2" fill="#1a1918"/>
<ellipse cx="1003.2" cy="510.3" rx="1.6" ry="2" fill="#1a1918"/>
<g transform="translate(1016.5 132.2) rotate(30)" stroke="#141312" stroke-linejoin="round">
<path d="M6 -1.6 L0 -1.6 A0.8960000000000001 1.6 0 0 0 0 1.6 L6 1.6 Z" fill="#bdb8b2" stroke-width="0.9"/>
<ellipse cx="6" cy="0" rx="0.8960000000000001" ry="1.6" fill="#c9c4be" stroke-width="0.9"/>
<path d="M27.8 -6.6 L5.6 -6.6 A3.3 6.6 0 0 0 5.6 6.6 L27.8 6.6 Z" fill="url(#gMetal)" stroke-width="0.9"/>
<ellipse cx="27.8" cy="0" rx="3.3" ry="6.6" fill="#d9d4ce" stroke-width="0.9"/>
<ellipse cx="27.8" cy="0" rx="3.3" ry="6.6" fill="#2b2927" stroke-width="0.9"/>
<ellipse cx="28.5" cy="0" rx="2" ry="3.8" fill="#6d6964" stroke-width="0.63"/>
<ellipse cx="20" cy="3.6" rx="1" ry="1.3" fill="#2b2927" stroke-width="0.54"/>
<path d="M50 -2.2 L28 -2.2 A1.1 2.2 0 0 0 28 2.2 L50 2.2 Z" fill="url(#gRod)" stroke-width="0.9"/>
<path d="M55.5 -3.6 L49.5 -3.6 A1.8 3.6 0 0 0 49.5 3.6 L55.5 3.6 Z" fill="#cdb98a" stroke-width="0.9"/>
<ellipse cx="55.5" cy="0" rx="1.8" ry="3.6" fill="#e0cf9e" stroke-width="0.9"/>
<path d="M63 -3.4 L55 -3.4 A1.7 3.4 0 0 0 55 3.4 L63 3.4 Z" fill="#2a2826" stroke-width="0.9"/>
<ellipse cx="67.2" cy="0" rx="5.28" ry="9.6" fill="#1b1a19" stroke-width="0.9"/>
<ellipse cx="66" cy="0" rx="5.28" ry="9.6" fill="#262422" stroke-width="0.9"/>
<ellipse cx="65.7" cy="0" rx="1.4784000000000002" ry="2.688" fill="#d8d4cf" stroke-width="0.7200000000000001"/>
<ellipse cx="75.2" cy="0" rx="4.836" ry="9.3" fill="#1b1a19" stroke-width="0.9"/>
<ellipse cx="74" cy="0" rx="4.836" ry="9.3" fill="#8a8784" stroke-width="0.9"/>
<ellipse cx="73.7" cy="0" rx="1.25736" ry="2.418" fill="#dcd8d3" stroke-width="0.7200000000000001"/>
<ellipse cx="83.7" cy="0" rx="4.836" ry="9.3" fill="#1b1a19" stroke-width="0.9"/>
<ellipse cx="82.5" cy="0" rx="4.836" ry="9.3" fill="#8a8784" stroke-width="0.9"/>
<ellipse cx="82.2" cy="0" rx="1.25736" ry="2.418" fill="#dcd8d3" stroke-width="0.7200000000000001"/>
<ellipse cx="93" cy="0" rx="5" ry="9" fill="#1b1a19" stroke-width="0.9"/>
<ellipse cx="91" cy="0" rx="4.9" ry="8.8" fill="#efebe6" stroke-width="0.9"/>
<ellipse cx="92.2" cy="0" rx="3.1" ry="6.2" fill="#232120" stroke-width="0.54"/>
<ellipse cx="92" cy="0" rx="1.2" ry="2.2" fill="#e4e0db" stroke-width="0.54"/>
<path d="M119 -6.8 L99.7 -6.8 A3.4 6.8 0 0 0 99.7 6.8 L119 6.8 Z" fill="url(#gMetal)" stroke-width="0.9"/>
<ellipse cx="119" cy="0" rx="3.4" ry="6.8" fill="#cfcac4" stroke-width="0.9"/>
<path d="M117 -6.8 L128 -6.8 L128 6.8 L117 6.8 Z" fill="url(#gMetal)" stroke-width="0.9"/>
<path d="M118 -5 L128 -5 L128 4.5 L118 4.5 A2.6 4.75 0 0 1 118 -5 Z" fill="#3c3936" stroke-width="0.7200000000000001"/>
<path d="M117 -1.8 L128 -1.8 L128 1.8 L117 1.8 Z" fill="#9a958f" stroke-width="0.63"/>
<g transform="translate(63.5 -13.9)"><rect x="-2.6" y="-2.2" width="5.2" height="4.4" rx="1" fill="#2a2826" stroke-width="0.7200000000000001"/><ellipse cx="-1.5" cy="-0.3" rx="0.8" ry="1.2" fill="#8a857f" stroke="none"/></g>
<g transform="translate(47.2 14.55)"><rect x="-2.6" y="-2.2" width="5.2" height="4.4" rx="1" fill="#2a2826" stroke-width="0.7200000000000001"/></g>
</g>
<g transform="translate(1016.5 517.3) rotate(30)" stroke="#141312" stroke-linejoin="round">
<path d="M6 -1.6 L0 -1.6 A0.8960000000000001 1.6 0 0 0 0 1.6 L6 1.6 Z" fill="#bdb8b2" stroke-width="0.9"/>
<ellipse cx="6" cy="0" rx="0.8960000000000001" ry="1.6" fill="#c9c4be" stroke-width="0.9"/>
<path d="M27.8 -6.6 L5.6 -6.6 A3.3 6.6 0 0 0 5.6 6.6 L27.8 6.6 Z" fill="url(#gMetal)" stroke-width="0.9"/>
<ellipse cx="27.8" cy="0" rx="3.3" ry="6.6" fill="#d9d4ce" stroke-width="0.9"/>
<ellipse cx="27.8" cy="0" rx="3.3" ry="6.6" fill="#2b2927" stroke-width="0.9"/>
<ellipse cx="28.5" cy="0" rx="2" ry="3.8" fill="#6d6964" stroke-width="0.63"/>
<ellipse cx="20" cy="3.6" rx="1" ry="1.3" fill="#2b2927" stroke-width="0.54"/>
<path d="M50 -2.2 L28 -2.2 A1.1 2.2 0 0 0 28 2.2 L50 2.2 Z" fill="url(#gRod)" stroke-width="0.9"/>
<path d="M55.5 -3.6 L49.5 -3.6 A1.8 3.6 0 0 0 49.5 3.6 L55.5 3.6 Z" fill="#cdb98a" stroke-width="0.9"/>
<ellipse cx="55.5" cy="0" rx="1.8" ry="3.6" fill="#e0cf9e" stroke-width="0.9"/>
<path d="M63 -3.4 L55 -3.4 A1.7 3.4 0 0 0 55 3.4 L63 3.4 Z" fill="#2a2826" stroke-width="0.9"/>
<ellipse cx="67.2" cy="0" rx="5.28" ry="9.6" fill="#1b1a19" stroke-width="0.9"/>
<ellipse cx="66" cy="0" rx="5.28" ry="9.6" fill="#262422" stroke-width="0.9"/>
<ellipse cx="65.7" cy="0" rx="1.4784000000000002" ry="2.688" fill="#d8d4cf" stroke-width="0.7200000000000001"/>
<ellipse cx="75.2" cy="0" rx="4.836" ry="9.3" fill="#1b1a19" stroke-width="0.9"/>
<ellipse cx="74" cy="0" rx="4.836" ry="9.3" fill="#8a8784" stroke-width="0.9"/>
<ellipse cx="73.7" cy="0" rx="1.25736" ry="2.418" fill="#dcd8d3" stroke-width="0.7200000000000001"/>
<ellipse cx="83.7" cy="0" rx="4.836" ry="9.3" fill="#1b1a19" stroke-width="0.9"/>
<ellipse cx="82.5" cy="0" rx="4.836" ry="9.3" fill="#8a8784" stroke-width="0.9"/>
<ellipse cx="82.2" cy="0" rx="1.25736" ry="2.418" fill="#dcd8d3" stroke-width="0.7200000000000001"/>
<ellipse cx="93" cy="0" rx="5" ry="9" fill="#1b1a19" stroke-width="0.9"/>
<ellipse cx="91" cy="0" rx="4.9" ry="8.8" fill="#efebe6" stroke-width="0.9"/>
<ellipse cx="92.2" cy="0" rx="3.1" ry="6.2" fill="#232120" stroke-width="0.54"/>
<ellipse cx="92" cy="0" rx="1.2" ry="2.2" fill="#e4e0db" stroke-width="0.54"/>
<path d="M119 -6.8 L99.7 -6.8 A3.4 6.8 0 0 0 99.7 6.8 L119 6.8 Z" fill="url(#gMetal)" stroke-width="0.9"/>
<ellipse cx="119" cy="0" rx="3.4" ry="6.8" fill="#cfcac4" stroke-width="0.9"/>
<path d="M117 -6.8 L128 -6.8 L128 6.8 L117 6.8 Z" fill="url(#gMetal)" stroke-width="0.9"/>
<path d="M118 -5 L128 -5 L128 4.5 L118 4.5 A2.6 4.75 0 0 1 118 -5 Z" fill="#3c3936" stroke-width="0.7200000000000001"/>
<path d="M117 -1.8 L128 -1.8 L128 1.8 L117 1.8 Z" fill="#9a958f" stroke-width="0.63"/>
<g transform="translate(63.5 -13.9)"><rect x="-2.6" y="-2.2" width="5.2" height="4.4" rx="1" fill="#2a2826" stroke-width="0.7200000000000001"/><ellipse cx="-1.5" cy="-0.3" rx="0.8" ry="1.2" fill="#8a857f" stroke="none"/></g>
<g transform="translate(47.2 14.55)"><rect x="-2.6" y="-2.2" width="5.2" height="4.4" rx="1" fill="#2a2826" stroke-width="0.7200000000000001"/></g>
</g>
<path d="M1127.3 161.1 L1127.3 627 A9.399999999999977 5.5 0 0 0 1146.1 627 L1146.1 161.1 Z" fill="url(#gTube)" stroke="#141312" stroke-width="0.9"/>
<ellipse cx="1136.6999999999998" cy="161.1" rx="9.399999999999977" ry="5.5" fill="#9a958f" stroke="#141312" stroke-width="0.9"/>
<g style="mix-blend-mode:multiply">
<g transform="translate(462.8 404.2) scale(2.01 1.98)"><rect x="0" y="0" width="21" height="21.5" fill="#d5d5d5"/><g fill="none" stroke="#fff"><circle cx="10.1" cy="10.5" r="5.3" stroke-width="2.5"/><path d="M14.6 -0.2 Q5.4 4.6 4.75 10.5" stroke-width="2.5"/><path d="M5.9 14.2 L-0.3 21.8" stroke-width="2.2"/><path d="M5.6 21.7 Q14.8 16.4 15.45 10.5" stroke-width="2.5"/><path d="M14.3 6.8 L21.3 -0.3" stroke-width="2.2"/></g></g>
<text x="513.5" y="444" font-family="Liberation Sans" font-weight="bold" font-size="50.5" fill="#d5d5d5" textLength="225" lengthAdjust="spacingAndGlyphs">INOXHUB</text>
</g>
</svg></body></html>
